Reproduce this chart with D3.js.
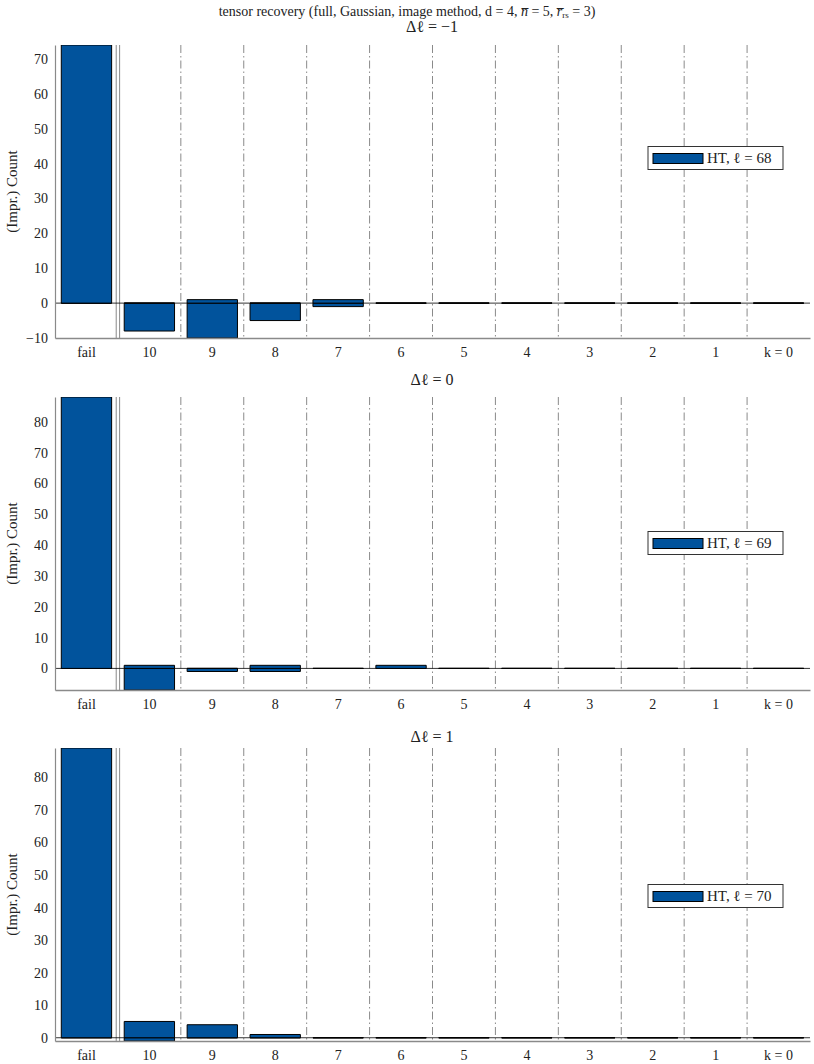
<!DOCTYPE html>
<html>
<head>
<meta charset="utf-8">
<script src="https://cdn.jsdelivr.net/npm/d3@7"></script>
<style>
	body { margin: 0; background: #fff; }
	text { font-family: 'Liberation Serif', 'DejaVu Serif', serif; fill: #222; }
</style>
</head>
<body>
<div id="chart"></div>
<script>
'use strict';

var categories = ['fail', '10', '9', '8', '7', '6', '5', '4', '3', '2', '1', 'k = 0'];

// counts above zero, improvements below zero
var gainM1 = [74, 0, 1, 0, 1, 0, 0, 0, 0, 0, 0, 0];
var lossM1 = [0, -8, -10, -5, -1, 0, 0, 0, 0, 0, 0, 0];
var gain0 = [88, 1, 0, 1, 0, 1, 0, 0, 0, 0, 0, 0];
var loss0 = [0, -7, -1, -1, 0, 0, 0, 0, 0, 0, 0, 0];
var gainP1 = [89, 5, 4, 1, 0, 0, 0, 0, 0, 0, 0, 0];
var lossP1 = [0, -1, 0, 0, 0, 0, 0, 0, 0, 0, 0, 0];

var panelTitles = ['\u0394\u2113 = \u22121', '\u0394\u2113 = 0', '\u0394\u2113 = 1'];
var legendLabels = ['HT, \u2113 = 68', 'HT, \u2113 = 69', 'HT, \u2113 = 70'];
var yDomains = [[-10, 74], [-7, 88], [-1, 89]];
var yTicksM1 = [-10, 0, 10, 20, 30, 40, 50, 60, 70];
var yTicks0 = [0, 10, 20, 30, 40, 50, 60, 70, 80];
var yTicksP1 = [0, 10, 20, 30, 40, 50, 60, 70, 80];

var panels = [
	{ gain: gainM1, loss: lossM1, ticks: yTicksM1 },
	{ gain: gain0, loss: loss0, ticks: yTicks0 },
	{ gain: gainP1, loss: lossP1, ticks: yTicksP1 }
];

var W = 814, H = 1064;
var blue = '#01539c';
var gridColor = '#8a8a8a';
var axisColor = '#8a8a8a';
var serif = "'Liberation Serif', 'DejaVu Serif', serif";

var svg = d3.select('#chart').append('svg')
	.attr('width', W)
	.attr('height', H);

var mainTitle = svg.append('text')
	.attr('x', 407)
	.attr('y', 16)
	.attr('text-anchor', 'middle')
	.style('font-size', '14px');
mainTitle.append('tspan').text('tensor recovery (full, Gaussian, image method, d = 4, ');
mainTitle.append('tspan').style('font-style', 'italic').text('n\u0305');
mainTitle.append('tspan').text(' = 5, ');
mainTitle.append('tspan').style('font-style', 'italic').text('r\u0305');
mainTitle.append('tspan').attr('baseline-shift', '-25%').style('font-size', '9px').text('rs');
mainTitle.append('tspan').text(' = 3)');

var plotLeft = 55, plotRight = 810;
var plotTops = [45, 397, 748];
var plotHeight = 293;
var titleY = [34, 387, 744];
var legendCY = [158, 543, 896];

var xScale = d3.scaleBand()
	.domain(categories)
	.range([plotLeft, plotRight])
	.paddingInner(0.2)
	.paddingOuter(0.1);

var step = xScale.step();

function barPath(x, w, y0, y1){
	return 'M' + x + ',' + y0 + 'H' + (x + w) + 'V' + y1 + 'H' + x + 'Z';
}

panels.forEach(function(p, i){
	var top = plotTops[i];
	var bottom = top + plotHeight;

	var yScale = d3.scaleLinear()
		.domain(yDomains[i])
		.range([bottom, top]);

	var g = svg.append('g').attr('class', 'panel');

	g.append('text')
		.attr('x', 432)
		.attr('y', titleY[i] - 2)
		.attr('text-anchor', 'middle')
		.style('font-size', '16px')
		.text(panelTitles[i]);

	var clipId = 'clip' + i;
	g.append('clipPath').attr('id', clipId)
		.append('rect')
		.attr('x', plotLeft)
		.attr('y', top)
		.attr('width', plotRight - plotLeft)
		.attr('height', plotHeight);

	// dash-dot grid at category boundaries
	var bounds = categories.slice(2).map(function(c){ return xScale(c) - step * 0.1; });
	g.selectAll('line.grid').data(bounds).enter().append('line')
		.attr('class', 'grid')
		.attr('x1', function(d){ return d; })
		.attr('x2', function(d){ return d; })
		.attr('y1', top)
		.attr('y2', bottom)
		.attr('stroke', gridColor)
		.attr('stroke-width', 1)
		.attr('stroke-dasharray', '8,3,1.5,3');

	// double separator after "fail"
	var sep = xScale(categories[1]) - step * 0.1;
	[-1.7, 1.7].forEach(function(o){
		g.append('line')
			.attr('x1', sep + o).attr('x2', sep + o)
			.attr('y1', top).attr('y2', bottom)
			.attr('stroke', gridColor)
			.attr('stroke-width', 1);
	});

	var plot = g.append('g').attr('clip-path', 'url(#' + clipId + ')');

	plot.append('line')
		.attr('x1', plotLeft).attr('x2', plotRight)
		.attr('y1', yScale(0)).attr('y2', yScale(0))
		.attr('stroke', '#000')
		.attr('stroke-width', 0.8);

	var rows = categories.map(function(c, j){ return { name: c, gain: p.gain[j], loss: p.loss[j] }; });

	plot.selectAll('path.loss').data(rows).enter().append('path')
		.attr('class', 'loss')
		.attr('d', function(d){ return barPath(xScale(d.name), xScale.bandwidth(), yScale(0), yScale(d.loss)); })
		.attr('fill', blue)
		.attr('stroke', '#000')
		.attr('stroke-width', 1);

	plot.selectAll('path.gain').data(rows).enter().append('path')
		.attr('class', 'gain')
		.attr('d', function(d){ return barPath(xScale(d.name), xScale.bandwidth(), yScale(0), yScale(d.gain)); })
		.attr('fill', blue)
		.attr('stroke', '#000')
		.attr('stroke-width', 1);

	// axes
	var yAxis = d3.axisLeft(yScale).tickValues(p.ticks).tickSize(0).tickPadding(7);
	var ya = g.append('g')
		.attr('transform', 'translate(' + plotLeft + ',0)')
		.call(yAxis)
		.attr('font-family', serif);
	ya.select('.domain').attr('stroke', axisColor).attr('stroke-width', 1.2);
	ya.selectAll('text').style('font-size', '14px').style('font-family', serif).attr('fill', '#222');

	var xAxis = d3.axisBottom(xScale).tickSize(0).tickPadding(9);
	var xa = g.append('g')
		.attr('transform', 'translate(0,' + bottom + ')')
		.call(xAxis)
		.attr('font-family', serif);
	xa.select('.domain').attr('stroke', axisColor).attr('stroke-width', 1.5);
	xa.selectAll('text').style('font-size', '14px').style('font-family', serif).attr('fill', '#222');

	g.append('text')
		.attr('transform', 'translate(17,' + (top + plotHeight / 2) + ') rotate(-90)')
		.attr('text-anchor', 'middle')
		.style('font-size', '15px')
		.text('(Impr.) Count');

	// legend
	var lg = g.append('g').attr('transform', 'translate(648,' + (legendCY[i] - 11.5) + ')');
	lg.append('rect')
		.attr('width', 135).attr('height', 23)
		.attr('fill', '#fff')
		.attr('stroke', '#333')
		.attr('stroke-width', 1);
	lg.append('rect')
		.attr('x', 5).attr('y', 7)
		.attr('width', 50).attr('height', 10)
		.attr('fill', blue)
		.attr('stroke', '#000')
		.attr('stroke-width', 1);
	lg.append('text')
		.attr('x', 59).attr('y', 16.5)
		.style('font-size', '15px')
		.text(legendLabels[i]);
});
</script>
</body>
</html>
